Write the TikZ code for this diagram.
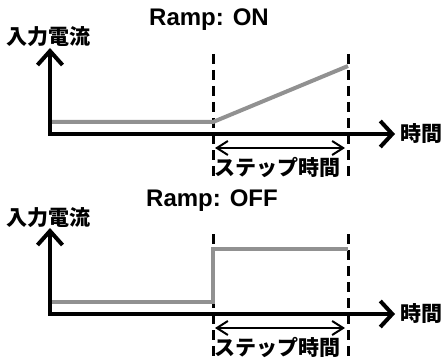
\documentclass[tikz,border=0pt]{standalone}
\usepackage{fontspec}
\setmainfont{Liberation Sans}
\newfontfamily\jpfont{Noto Sans CJK JP}
\usetikzlibrary{arrows.meta,positioning}

\tikzset{
  axis/.style={line width=4pt, line join=miter,
    {Straight Barb[length=14pt,width=25pt]}-{Straight Barb[length=12pt,width=26pt]}},
  signal/.style={line width=4pt, draw=black!43, line join=miter},
  guide/.style={line width=3pt, dash pattern=on 10pt off 6pt},
  span/.style={line width=2pt,
    {Straight Barb[length=11pt,width=14pt]}-{Straight Barb[length=11pt,width=14pt]}},
  title/.style={inner sep=0pt, font=\fontsize{24}{24}\selectfont\bfseries},
  jplabel/.style={inner sep=0pt, font=\jpfont\fontsize{21}{21}\selectfont\bfseries}
}

\begin{document}
\begin{tikzpicture}[x=1pt, y=-1pt]
\useasboundingbox (0,0) rectangle (446,358);

% --- Ramp: ON ---
\coordinate (o1) at (50,134);
\coordinate (yt1) at (50,48);
\coordinate (xt1) at (395,134);
\node[title] (t1) at (209,20) {Ramp: ON};
\node[jplabel] (yl1) at (48,37) {入力電流};
\node[jplabel, right=5pt of xt1] (xl1) {時間};
\draw[guide] (213,54) coordinate (da1) -- (213,178) coordinate (db1);
\draw[guide] (348,54) coordinate (dc1) -- (348,178) coordinate (dd1);
\draw[signal] (50,122) coordinate (s1) -- (213,122) coordinate (r1) -- (348,66) coordinate (e1);
\draw[axis] (yt1) -- (o1) -- (xt1);
\coordinate (pa1) at (215,148);
\coordinate (pb1) at (345,148);
\draw[span] (pa1) -- (pb1);
\node[jplabel] (st1) at (277,167) {ステップ時間};

% --- Ramp: OFF ---
\coordinate (o2) at (50,314);
\coordinate (yt2) at (50,228);
\coordinate (xt2) at (395,314);
\node[title] (t2) at (212,201) {Ramp: OFF};
\node[jplabel] (yl2) at (48,218) {入力電流};
\node[jplabel, right=5pt of xt2] (xl2) {時間};
\draw[guide] (213,234) coordinate (da2) -- (213,358) coordinate (db2);
\draw[guide] (348,234) coordinate (dc2) -- (348,358) coordinate (dd2);
\draw[signal] (50,302) coordinate (s2) -- (213,302) -- (213,249) -- (348,249) coordinate (e2);
\draw[axis] (yt2) -- (o2) -- (xt2);
\coordinate (pa2) at (215,328);
\coordinate (pb2) at (345,328);
\draw[span] (pa2) -- (pb2);
\node[jplabel] (st2) at (277,347) {ステップ時間};
\end{tikzpicture}
\end{document}
